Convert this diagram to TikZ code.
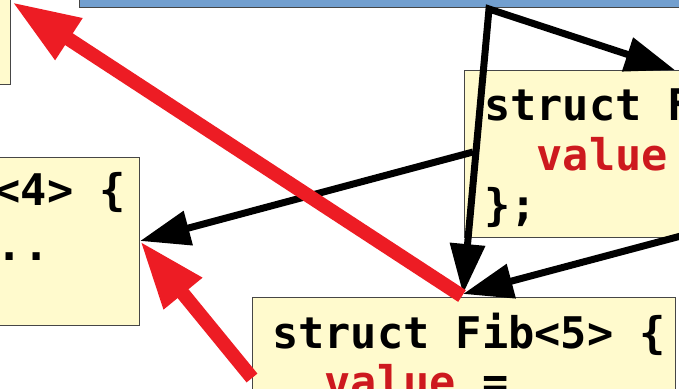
\documentclass[tikz,border=0pt]{standalone}
\usepackage{fontspec}
\setmonofont{DejaVu Sans Mono}
\usetikzlibrary{arrows.meta}
\definecolor{boxyellow}{RGB}{255,250,205}
\definecolor{boxblue}{RGB}{114,159,207}
\definecolor{boxline}{RGB}{70,70,70}
\definecolor{arrred}{RGB}{237,28,36}
\definecolor{txtred}{RGB}{205,25,30}
\tikzset{
  ybox/.style={draw=boxline, fill=boxyellow, line width=1.2pt, inner sep=0pt, anchor=north west},
  bbox/.style={draw=boxline, fill=boxblue, line width=1.2pt, inner sep=0pt, anchor=north west},
  code/.style={anchor=base west, inner sep=0pt, font=\fontsize{43.6}{50}\selectfont\ttfamily\bfseries},
  blk/.style={draw=black, line width=7pt, line join=miter},
  blktip/.style={-{Triangle[length=50pt,width=34pt]}},
  redarr/.style={draw=arrred, line width=14pt, -{Triangle[length=68pt,width=46pt]}},
}
\begin{document}
\begin{tikzpicture}[x=1pt,y=-1pt]
\useasboundingbox (0,0) rectangle (679,388);
\clip (0,0) rectangle (679,388);
% boxes
\node[bbox, minimum width=700pt, minimum height=60pt] (blue) at (79,-53) {};
\node[ybox, minimum width=60pt, minimum height=134pt] (tl) at (-50,-50) {};
\node[ybox, minimum width=189pt, minimum height=168pt] (f4) at (-50,157) {};
\node[ybox, minimum width=300pt, minimum height=167pt] (f3) at (464,70) {};
\node[ybox, minimum width=423pt, minimum height=150pt] (f5) at (252,297) {};
% texts
\node[code] (f4a) at (-268,205) {struct Fib<4> \{};
\node[code] (f4b) at (-29.5,260) {...};
\node[code] (f3a) at (484,120) {struct Fib<3> \{};
\node[code, text=txtred] (f3b) at (484,170) {\ \ value};
\node[code] (f3c) at (484,220) {\};};
\node[code] (f5a) at (272,348) {struct Fib<5> \{};
\node[code] (f5b) at (272,397) {\ \ \textcolor{txtred}{value} =};
% connector points
\coordinate (src) at (489,9);
\coordinate (f5top) at (463,294);
\coordinate (f3top) at (675,70);
\coordinate (f3out) at (473,152);
\coordinate (f4east) at (140,241);
\coordinate (rtail) at (720,225.6);
\coordinate (f5redsrc) at (462,296);
\coordinate (tlcorner) at (12,2);
\coordinate (f5left) at (252,378);
% black arrows
\draw[blk, {Triangle[length=50pt,width=34pt]}-{Triangle[length=50pt,width=34pt]}] (f5top) -- (src) -- (f3top);
\draw[blk, blktip] (f3out) -- (f4east);
\draw[blk, blktip] (rtail) -- (f5top);
% red arrows
\draw[redarr] (f5redsrc) -- (tlcorner);
\draw[redarr] (f5left) -- (f4east);
\end{tikzpicture}
\end{document}
